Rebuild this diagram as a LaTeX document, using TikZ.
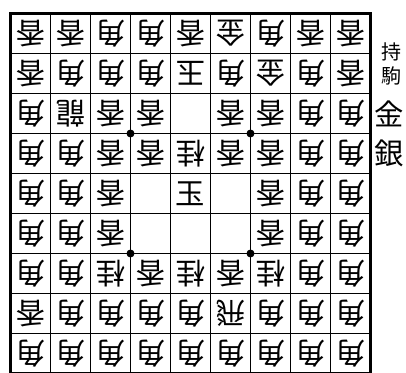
\documentclass[tikz,border=0pt]{standalone}
\usepackage{fontspec}
\newfontfamily\jpfont{Noto Sans CJK JP}
\begin{document}
\begin{tikzpicture}[x=0.75pt,y=-0.75pt,
    koma/.style={font=\jpfont\fontsize{22}{22}\selectfont, inner sep=0pt},
    gote/.style={koma, rotate=180},
    mochi/.style={font=\jpfont\fontsize{15}{15}\selectfont, inner sep=0pt}]
    \useasboundingbox (0,0) rectangle (406,373);

    % Draw the grid lines
    \foreach \i in {1,...,8} {
        \draw[line width=0.9pt] (10.5+40*\i,13.5) -- (10.5+40*\i,373.5);
        \draw[line width=0.9pt] (10.5,13.5+40*\i) -- (370.5,13.5+40*\i);
    }

    % Draw the outer border
    \draw[line width=2.2pt] (10.5,13.5) rectangle (370.5,373.5);

    % Draw the star points
    \fill (130.5,133.5) circle (3pt);
    \fill (250.5,133.5) circle (3pt);
    \fill (130.5,253.5) circle (3pt);
    \fill (250.5,253.5) circle (3pt);

    % Row 1
    \foreach \c/\p in {1/香,2/香,3/角,4/角,5/香,6/金,7/角,8/香,9/香}
        \node[gote] (k1\c) at ({30.5+40*(\c-1)},33.5) {\p};
    % Row 2
    \foreach \c/\p in {1/香,2/角,3/角,4/角,5/玉,6/角,7/金,8/角,9/香}
        \node[gote] (k2\c) at ({30.5+40*(\c-1)},73.5) {\p};
    % Row 3
    \foreach \c/\p in {1/角,2/龍,3/香,4/香,6/香,7/香,8/角,9/角}
        \node[gote] (k3\c) at ({30.5+40*(\c-1)},113.5) {\p};
    % Row 4
    \foreach \c/\p in {1/角,2/角,3/香,4/香,5/桂,6/香,7/香,8/角,9/角}
        \node[gote] (k4\c) at ({30.5+40*(\c-1)},153.5) {\p};
    % Row 5
    \foreach \c/\p in {1/角,2/角,3/香,7/香,8/角,9/角}
        \node[gote] (k5\c) at ({30.5+40*(\c-1)},193.5) {\p};
    \node[koma] (k55) at (190.5,193.5) {玉};
    % Row 6
    \foreach \c/\p in {1/角,2/角,3/香,7/香,8/角,9/角}
        \node[gote] (k6\c) at ({30.5+40*(\c-1)},233.5) {\p};
    % Row 7
    \foreach \c/\p in {1/角,2/角,3/桂,4/香,5/桂,6/香,7/桂,8/角,9/角}
        \node[gote] (k7\c) at ({30.5+40*(\c-1)},273.5) {\p};
    % Row 8
    \foreach \c/\p in {1/香,2/角,3/角,4/角,5/角,6/飛,7/角,8/角,9/角}
        \node[gote] (k8\c) at ({30.5+40*(\c-1)},313.5) {\p};
    % Row 9
    \foreach \c in {1,...,9}
        \node[gote] (k9\c) at ({30.5+40*(\c-1)},353.5) {角};

    % Pieces in hand
    \node[mochi] (mochi1) at (391,52) {持};
    \node[mochi] (mochi2) at (391,76) {駒};
    \node[koma] (kin) at (389,113.5) {金};
    \node[koma] (gin) at (389,153.5) {銀};

\end{tikzpicture}
\end{document}
